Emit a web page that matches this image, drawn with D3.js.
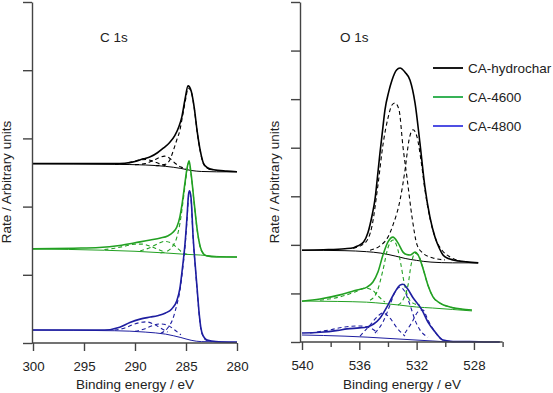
<!DOCTYPE html>
<html>
<head>
<meta charset="utf-8">
<script src="https://cdn.jsdelivr.net/npm/d3@7"></script>
<style>
  body { margin: 0; background: #fff; }
  svg { display: block; font-family: "Liberation Sans", Arial, sans-serif; }
  .axis path, .axis line { stroke: #444; stroke-width: 1.4; }
  .axis text { font-size: 13.3px; fill: #222; }
</style>
</head>
<body>
<div class="chart"></div>
<script>
// ---------- data: [binding energy eV, intensity a.u.] ----------
// C 1s
const c1sHydrochar = [[300,2.63],[296,2.63],[292,2.63],[291,2.635],[290,2.66],[289.2,2.70],[288.5,2.73],[287.8,2.79],[287.2,2.86],[286.6,2.94],[286.1,3.04],[285.7,3.17],[285.4,3.32],[285.1,3.57],[284.8,3.77],[284.5,3.70],[284.2,3.46],[283.9,3.10],[283.6,2.82],[283.3,2.64],[282.9,2.57],[282.3,2.54],[281,2.52],[280,2.51]];
const c1sHydrocharBg = [[300,2.63],[292,2.62],[289,2.61],[287,2.59],[285.5,2.56],[284.5,2.53],[283.5,2.515],[282,2.51],[280,2.51]];
const c1sHydrocharFit = [
  [[288,2.60],[287,2.62],[286.6,2.68],[286.2,2.84],[285.9,2.98],[285.6,3.12],[285.3,3.36],[285.0,3.60],[284.8,3.74],[284.5,3.69],[284.2,3.45],[283.9,3.09],[283.6,2.81],[283.3,2.63],[282.9,2.56],[282.3,2.53]],
  [[290,2.615],[289,2.63],[288.3,2.67],[287.6,2.72],[287.1,2.74],[286.6,2.71],[286.1,2.64],[285.5,2.58],[285,2.56]],
  [[292,2.62],[291,2.63],[290.2,2.66],[289.5,2.685],[288.9,2.69],[288.3,2.67],[287.6,2.63],[287,2.60]]
];

const c1sCA4600 = [[300,1.38],[296,1.39],[293.5,1.40],[291.5,1.43],[290,1.47],[288.5,1.51],[287.5,1.54],[286.8,1.57],[286.3,1.62],[285.9,1.70],[285.6,1.85],[285.4,2.02],[285.1,2.35],[284.9,2.56],[284.7,2.67],[284.5,2.48],[284.2,2.06],[283.9,1.66],[283.6,1.41],[283.3,1.31],[283,1.28],[282,1.26],[280,1.26]];
const c1sCA4600Bg = [[300,1.38],[293,1.36],[290,1.345],[287,1.32],[285,1.30],[283.6,1.29],[282,1.27],[280,1.26]];
const c1sCA4600Fit = [
  [[287.5,1.32],[286.8,1.35],[286.3,1.42],[285.9,1.55],[285.6,1.75],[285.4,1.95],[285.1,2.30],[284.9,2.53],[284.7,2.65],[284.5,2.47],[284.2,2.05],[283.9,1.65],[283.6,1.40],[283.3,1.31],[283,1.28],[282.5,1.27]],
  [[289.5,1.35],[288.5,1.40],[287.7,1.46],[287.1,1.49],[286.5,1.47],[285.9,1.40],[285.3,1.32],[284.8,1.30]],
  [[293,1.37],[292,1.39],[291,1.42],[290,1.45],[289.3,1.45],[288.5,1.42],[287.7,1.37],[287,1.33]]
];

const c1sCA4800 = [[300,0.19],[296,0.19],[293,0.19],[291.5,0.23],[290.5,0.30],[289.5,0.35],[288.5,0.38],[287.8,0.40],[287,0.44],[286.4,0.50],[285.9,0.62],[285.6,0.80],[285.35,1.10],[285.1,1.45],[284.9,1.85],[284.75,2.18],[284.65,2.23],[284.5,2.12],[284.3,1.55],[284.1,1.15],[283.9,0.78],[283.7,0.42],[283.55,0.23],[283.3,0.10],[283,0.05],[282.5,0.03],[281.5,0.015],[280,0.01]];
const c1sCA4800Bg = [[300,0.19],[292,0.18],[289,0.16],[287,0.13],[285.5,0.08],[284.5,0.04],[283.5,0.02],[280,0.015]];
const c1sCA4800Fit = [
  [[287.5,0.14],[286.8,0.22],[286.3,0.35],[285.9,0.56],[285.6,0.76],[285.35,1.05],[285.1,1.40],[284.9,1.80],[284.75,2.14],[284.65,2.2],[284.5,2.09],[284.3,1.53],[284.1,1.13],[283.9,0.76],[283.7,0.40],[283.55,0.21],[283.3,0.09],[283,0.04],[282.5,0.02]],
  [[292,0.19],[291,0.22],[290.2,0.27],[289.5,0.30],[288.9,0.31],[288.2,0.28],[287.5,0.22],[286.8,0.16]],
  [[290,0.17],[289,0.21],[288.2,0.26],[287.5,0.28],[286.8,0.26],[286.1,0.19],[285.5,0.12]]
];

// O 1s
const o1sHydrochar = [[540,1.89],[538.5,1.90],[537,1.92],[536.4,1.94],[536.1,1.98],[535.7,2.06],[535.4,2.25],[535.1,2.62],[534.9,2.95],[534.75,3.35],[534.56,3.89],[534.38,4.35],[534.21,4.78],[533.95,5.15],[533.72,5.39],[533.4,5.60],[533.16,5.64],[532.8,5.55],[532.46,5.39],[532.11,4.92],[531.77,4.10],[531.42,3.19],[531.07,2.57],[530.72,2.16],[530.4,1.92],[530.16,1.79],[529.8,1.72],[529.46,1.69],[528.5,1.65],[527.7,1.63]];
const o1sHydrocharBg = [[540,1.89],[537,1.88],[535.5,1.86],[534.5,1.83],[533.5,1.77],[532.8,1.72],[532,1.68],[531,1.645],[529.5,1.63],[527.7,1.63]];
const o1sHydrocharFit = [
  [[536.44,1.93],[535.6,2.04],[535.1,2.41],[534.7,3.23],[534.35,4.06],[534.0,4.61],[533.72,4.88],[533.51,4.92],[533.23,4.78],[532.95,4.01],[532.67,3.38],[532.32,2.57],[531.97,2.0],[531.56,1.83],[530.86,1.73],[530.02,1.69]],
  [[535.25,1.89],[534.56,1.98],[534.0,2.16],[533.65,2.41],[533.16,2.92],[532.81,3.54],[532.53,4.16],[532.25,4.37],[531.97,4.22],[531.7,3.75],[531.42,3.13],[531.07,2.55],[530.72,2.16],[530.23,1.89],[529.67,1.75],[528.97,1.67]]
];

const o1sCA4600 = [[540,0.84],[538.74,0.885],[537.35,0.97],[536.16,1.07],[535.46,1.13],[535.05,1.235],[534.7,1.44],[534.35,1.79],[534.0,2.06],[533.65,2.16],[533.3,2.04],[532.95,1.85],[532.7,1.80],[532.46,1.79],[532.11,1.85],[531.91,1.80],[531.56,1.52],[531.21,1.17],[530.86,0.93],[530.37,0.80],[529.67,0.72],[528.9,0.68],[528.14,0.66]];
const o1sCA4600Bg = [[540,0.844],[537.5,0.835],[535.5,0.82],[534.2,0.79],[533.2,0.76],[532,0.72],[530.9,0.70],[529.5,0.67],[528.14,0.64]];
const o1sCA4600Fit = [
  [[535.25,0.86],[534.77,1.03],[534.35,1.48],[534.0,1.94],[533.65,2.10],[533.3,1.89],[533.09,1.585],[532.88,1.235],[532.6,0.93],[532.25,0.80],[531.77,0.76]],
  [[533.3,0.76],[532.88,0.91],[532.6,1.17],[532.39,1.585],[532.11,1.83],[531.84,1.77],[531.56,1.52],[531.21,1.17],[530.86,0.93],[530.37,0.80],[529.67,0.72],[528.28,0.66]],
  [[538.74,0.86],[537.35,0.93],[536.3,1.03],[535.6,1.11],[535.1,1.07],[534.7,0.95],[534.21,0.82]]
];

const o1sCA4800 = [[540,0.185],[538.74,0.20],[537.5,0.24],[536.86,0.27],[536,0.29],[535.46,0.31],[535,0.37],[534.56,0.49],[534.0,0.76],[533.51,1.03],[533.16,1.17],[532.95,1.19],[532.67,1.11],[532.25,0.91],[531.63,0.66],[531.21,0.41],[530.72,0.21],[530.16,0.04],[529.46,0.01],[528.3,0.01],[527,0.0],[526.2,0.0]];
const o1sCA4800Bg = [[540,0.144],[537,0.12],[535.46,0.10],[533.16,0.06],[530.86,0.02],[529.46,0.0],[526.2,0.0]];
const o1sCA4800Fit = [
  [[534.91,0.185],[534.35,0.41],[533.86,0.76],[533.51,1.03],[533.16,1.13],[532.81,1.03],[532.46,0.76],[532.11,0.45],[531.77,0.25],[531.21,0.10]],
  [[532.81,0.185],[532.32,0.41],[531.91,0.62],[531.56,0.66],[531.21,0.45],[530.72,0.21],[530.16,0.04],[529.46,0.01]],
  [[535.95,0.12],[535.25,0.35],[534.7,0.535],[534.35,0.6],[533.86,0.49],[533.37,0.29],[532.81,0.12]],
  [[539.44,0.185],[538.05,0.25],[537.0,0.31],[535.95,0.33],[535.25,0.29],[534.7,0.185]]
];

const seriesNames = ["CA-hydrochar", "CA-4600", "CA-4800"];
const lineColors = ["#000000", "#22a022", "#1e1ea0"];
const legendColors = ["#000000", "#22aa44", "#3c3ce0"];
const c1sTicks = [300, 295, 290, 285, 280];
const o1sMajorTicks = [540, 536, 532, 528];
const o1sMinorTicks = [538, 534, 530, 526];

const w = 553, h = 393;

const svg = d3.select(".chart").append("svg")
  .attr("width", w)
  .attr("height", h);

// scales
const xC = d3.scaleLinear().domain([300, 280]).range([33, 237]);
const yC = d3.scaleLinear().domain([0, 5]).range([343, 2]);
const xO = d3.scaleLinear().domain([540, 526]).range([302, 502.6]);
const yO = d3.scaleLinear().domain([0, 7]).range([342, 2]);

function drawPanel(x, y, axisX, axisY, sets) {
  const line = d3.line()
    .x(d => x(d[0]))
    .y(d => y(d[1]))
    .curve(d3.curveMonotoneX);

  sets.forEach((s, i) => {
    const col = lineColors[i];
    svg.append("path").attr("d", line(s.bg))
      .attr("fill", "none").attr("stroke", col).attr("stroke-width", 1);
    s.fit.forEach(c => {
      svg.append("path").attr("d", line(c))
        .attr("fill", "none").attr("stroke", col)
        .attr("stroke-width", 1.1).attr("stroke-dasharray", "4,3");
    });
    svg.append("path").attr("d", line(s.env))
      .attr("fill", "none").attr("stroke", col).attr("stroke-width", 1.6)
      .attr("stroke-linejoin", "round");
  });

  // y axis (no labels)
  svg.append("g")
    .attr("class", "axis")
    .attr("transform", `translate(${axisX},0)`)
    .call(d3.axisLeft(y).ticks(y.domain()[1]).tickSize(9).tickSizeOuter(0).tickFormat(""));
}

drawPanel(xC, yC, 32, 343, [
  { env: c1sHydrochar, bg: c1sHydrocharBg, fit: c1sHydrocharFit },
  { env: c1sCA4600, bg: c1sCA4600Bg, fit: c1sCA4600Fit },
  { env: c1sCA4800, bg: c1sCA4800Bg, fit: c1sCA4800Fit }
]);

drawPanel(xO, yO, 300, 342, [
  { env: o1sHydrochar, bg: o1sHydrocharBg, fit: o1sHydrocharFit },
  { env: o1sCA4600, bg: o1sCA4600Bg, fit: o1sCA4600Fit },
  { env: o1sCA4800, bg: o1sCA4800Bg, fit: o1sCA4800Fit }
]);

// x axes
const gxC = svg.append("g")
  .attr("class", "axis")
  .attr("transform", "translate(0,343)")
  .call(d3.axisBottom(xC).tickValues(c1sTicks).tickSize(8).tickPadding(11).tickSizeOuter(0));
gxC.select(".domain").attr("d", `M32,0H${xC(280)}`);

svg.append("g")
  .attr("class", "axis")
  .attr("transform", "translate(0,342)")
  .call(d3.axisBottom(xO).tickValues(o1sMinorTicks).tickSize(5).tickFormat("").tickSizeOuter(0))
  .select(".domain").remove();
const gxO = svg.append("g")
  .attr("class", "axis")
  .attr("transform", "translate(0,342)")
  .call(d3.axisBottom(xO).tickValues(o1sMajorTicks).tickSize(8).tickPadding(11).tickSizeOuter(0));
gxO.select(".domain").attr("d", `M300,0H${xO(526)}`);

// titles
const txt = (x, y, s, size) => svg.append("text")
  .attr("x", x).attr("y", y).text(s)
  .attr("font-size", size).attr("fill", "#222");

txt(100, 42, "C 1s", "13.5px");
txt(340, 42, "O 1s", "13.5px");

txt(135, 389, "Binding energy / eV", "13.5px").attr("text-anchor", "middle");
txt(402, 389, "Binding energy / eV", "13.5px").attr("text-anchor", "middle");

[11, 279].forEach(px => {
  svg.append("text")
    .attr("transform", `translate(${px},182) rotate(-90)`)
    .attr("text-anchor", "middle")
    .attr("font-size", "13.5px")
    .attr("fill", "#222")
    .text("Rate / Arbitrary units");
});

// legend
const legend = svg.append("g").attr("transform", "translate(433,68)");
seriesNames.forEach((name, i) => {
  const g = legend.append("g").attr("transform", `translate(0,${i * 29})`);
  g.append("line").attr("x1", 0).attr("x2", 30).attr("y1", 0).attr("y2", 0)
    .attr("stroke", legendColors[i]).attr("stroke-width", 1.8);
  g.append("text").attr("x", 35).attr("y", 5)
    .attr("font-size", "13.5px").attr("fill", "#222").text(name);
});
</script>
</body>
